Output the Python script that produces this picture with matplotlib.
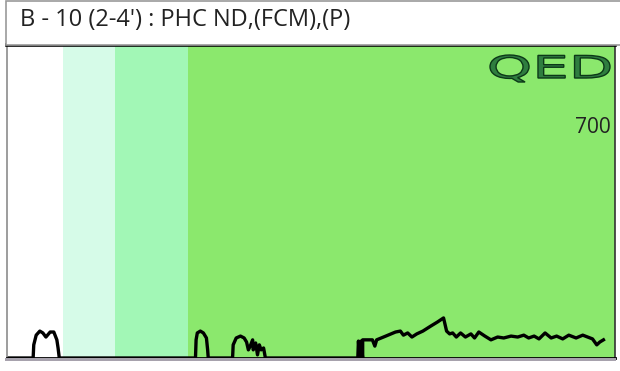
import matplotlib.pyplot as plt
from matplotlib.patches import Rectangle, PathPatch
from matplotlib.textpath import TextPath
from matplotlib.font_manager import FontProperties
from matplotlib.transforms import Affine2D

# Chromatogram trace (retention axis 0-100, response 0-100)
trace_x = [0, 4.3, 4.4, 4.8, 5.4, 5.9, 6.4, 7.1, 7.7, 8.2, 8.4, 8.6,
           31.0, 31.1, 31.3, 31.8, 32.3, 32.8, 33.0, 33.1,
           37.1, 37.2, 37.7, 38.4, 39.0, 39.4, 39.7, 40.0, 40.4, 40.5, 40.9,
           41.2, 41.5, 41.8, 42.2, 42.5,
           57.7, 57.8, 58.0, 58.2, 58.5, 58.5, 60.1, 60.5, 60.8, 62.3, 63.9,
           64.7, 65.2, 65.9, 66.6, 67.4, 68.4, 69.7, 70.8, 71.8, 72.3, 72.8,
           73.3, 73.9, 74.6, 75.4, 76.3, 76.9, 77.6, 78.6, 79.6, 80.7, 81.7,
           82.9, 84.0, 85.0, 85.8, 86.7, 87.5, 88.5, 89.5, 90.4, 91.4, 92.4,
           93.6, 94.7, 95.5, 96.3, 97.0, 97.5, 98.1]
trace_y = [0, 0, 4.2, 7.3, 8.6, 8.0, 6.7, 8.3, 8.3, 5.8, 3.2, 0,
           0, 5.8, 8.0, 8.6, 8.0, 6.4, 2.6, 0,
           0, 4.2, 6.4, 7.0, 6.4, 5.1, 2.6, 3.8, 5.8, 2.6, 4.8,
           1.0, 4.2, 2.6, 3.2, 0,
           0, 5.4, 0, 5.4, 0, 5.8, 5.8, 3.8, 5.8, 7.0, 8.3,
           8.6, 7.3, 8.0, 6.7, 7.7, 8.6, 10.2, 11.5, 12.8, 8.6, 7.7,
           8.0, 6.7, 8.0, 6.7, 7.7, 6.4, 8.3, 7.0, 5.8, 6.7, 6.4,
           7.0, 6.7, 7.3, 6.4, 7.0, 6.1, 8.0, 6.4, 7.0, 6.1, 7.3,
           6.4, 7.3, 6.7, 6.1, 4.2, 5.1, 5.8]

# Carbon-range bands behind the trace
band_edges = [0, 9.2, 17.8, 29.7, 100]
band_colors = ['#ffffff', '#d6fbe8', '#a2f7b6', '#8be86d']

title = "B - 10 (2-4') : PHC ND,(FCM),(P)"
scale_label = '700'

fig = plt.figure(figsize=(6.2, 3.71), dpi=100)

# header box
fig.patches.append(Rectangle((6 / 620, 1 - 45 / 371), 620 / 620, 44 / 371,
                             transform=fig.transFigure, facecolor='white',
                             edgecolor='#9a9a9a', linewidth=1.2))
fig.text(20 / 620, 1 - 20 / 371, title, fontsize=17, family='Open Sans',
         va='center', ha='left', color='#222222')

# grey strip under the baseline
fig.patches.append(Rectangle((5 / 620, 10 / 371), 611 / 620, 3 / 371,
                             transform=fig.transFigure, facecolor='#a7a2ad',
                             edgecolor='none'))

ax = fig.add_axes([7 / 620, 13 / 371, 608 / 620, 313 / 371])
for lo, hi, c in zip(band_edges[:-1], band_edges[1:], band_colors):
    ax.axvspan(lo, hi, color=c, lw=0)
ax.plot(trace_x, trace_y, color='black', lw=2.4, solid_joinstyle='round')
ax.set_xlim(0, 100)
ax.set_ylim(0, 100)
ax.set_xticks([])
ax.set_yticks([])
ax.spines['top'].set_linewidth(2.6)
ax.spines['top'].set_color('black')
ax.spines['bottom'].set_linewidth(2.0)
ax.spines['bottom'].set_color('black')
ax.spines['left'].set_color('#8c8c8c')
ax.spines['left'].set_linewidth(1.2)
ax.spines['right'].set_color('#333333')
ax.spines['right'].set_linewidth(1.2)

ax.text(0.993, 0.735, scale_label, transform=ax.transAxes, ha='right',
        va='center', fontsize=15, family='Open Sans', color='#222222')

# stretched QED logo
tp = TextPath((0, 0), 'QED', size=1,
              prop=FontProperties(family='DejaVu Sans'))
bb = tp.get_extents()
w_px, h_px = 120, 27
x0_px, y0_px = 490, 371 - 82
tr = (Affine2D().translate(-bb.x0, -bb.y0)
      .scale(w_px / bb.width, h_px / bb.height)
      .translate(x0_px, y0_px))
logo = PathPatch(tr.transform_path(tp), transform=None,
                 facecolor='#2f7d3f', edgecolor='#0c3818', lw=1.0)
fig.patches.append(logo)

fig.savefig('out.png', dpi=100)
